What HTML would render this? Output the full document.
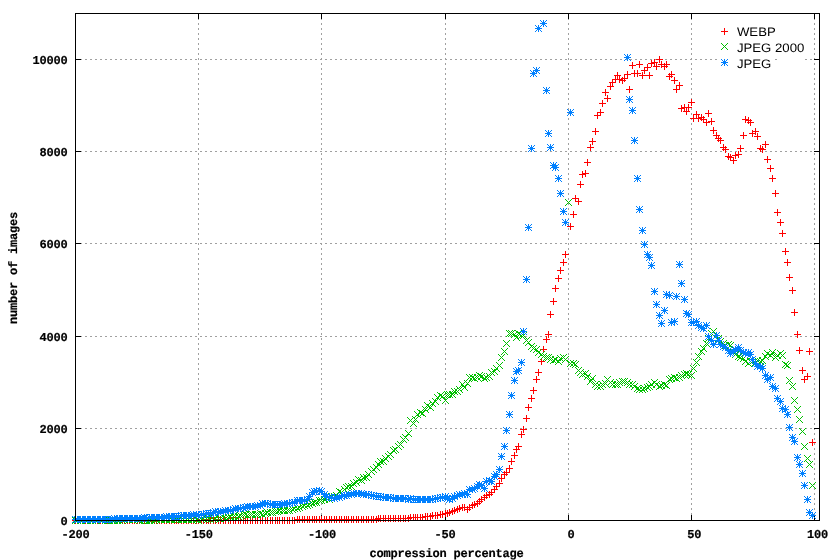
<!DOCTYPE html>
<html><head><meta charset="utf-8"><title>compression percentage</title>
<style>html,body{margin:0;padding:0;background:#fff}svg{display:block}</style></head>
<body>
<svg width="839" height="560" viewBox="0 0 839 560">
<rect width="839" height="560" fill="#fff"/>
<path d="M75.0 428.5H819.5M75.0 336.5H819.5M75.0 243.5H819.5M75.0 151.5H819.5M75.0 59.5H819.5M198.5 520.0V13.5M321.5 520.0V13.5M445.5 520.0V13.5M568.5 520.0V13.5M691.5 520.0V13.5M814.5 520.0V13.5" stroke="#a0a0a0" stroke-width="1" stroke-dasharray="2 3" fill="none" shape-rendering="crispEdges"/>
<path d="M75.5 520.5h5M819.5 520.5h-6M75.5 428.5h5M819.5 428.5h-6M75.5 336.5h5M819.5 336.5h-6M75.5 243.5h5M819.5 243.5h-6M75.5 151.5h5M819.5 151.5h-6M75.5 59.5h5M819.5 59.5h-6M75.5 520.5v-6M75.5 13.5v5M198.5 520.5v-6M198.5 13.5v5M321.5 520.5v-6M321.5 13.5v5M445.5 520.5v-6M445.5 13.5v5M568.5 520.5v-6M568.5 13.5v5M691.5 520.5v-6M691.5 13.5v5M814.5 520.5v-6M814.5 13.5v5" stroke="#000" stroke-width="1" fill="none" shape-rendering="crispEdges"/>
<path d="M717 59.5H775M777 59.5H805" stroke="#fff" stroke-width="1" shape-rendering="crispEdges"/>
<path d="M72 520.5h7M75.5 517v7M74 520.5h7M77.5 517v7M77 520.5h7M80.5 517v7M79 520.5h7M82.5 517v7M82 520.5h7M85.5 517v7M84 520.5h7M87.5 517v7M87 520.5h7M90.5 517v7M89 520.5h7M92.5 517v7M92 520.5h7M95.5 517v7M94 520.5h7M97.5 517v7M97 520.5h7M100.5 517v7M99 520.5h7M102.5 517v7M102 520.5h7M105.5 517v7M104 520.5h7M107.5 517v7M106 520.5h7M109.5 517v7M109 520.5h7M112.5 517v7M111 520.5h7M114.5 517v7M114 520.5h7M117.5 517v7M116 520.5h7M119.5 517v7M119 520.5h7M122.5 517v7M121 520.5h7M124.5 517v7M124 520.5h7M127.5 517v7M126 520.5h7M129.5 517v7M129 520.5h7M132.5 517v7M131 520.5h7M134.5 517v7M134 520.5h7M137.5 517v7M136 520.5h7M139.5 517v7M139 520.5h7M142.5 517v7M141 520.5h7M144.5 517v7M143 520.5h7M146.5 517v7M146 520.5h7M149.5 517v7M148 520.5h7M151.5 517v7M151 520.5h7M154.5 517v7M153 520.5h7M156.5 517v7M156 520.5h7M159.5 517v7M158 520.5h7M161.5 517v7M161 520.5h7M164.5 517v7M163 520.5h7M166.5 517v7M166 520.5h7M169.5 517v7M168 520.5h7M171.5 517v7M171 520.5h7M174.5 517v7M173 520.5h7M176.5 517v7M175 520.5h7M178.5 517v7M178 520.5h7M181.5 517v7M180 520.5h7M183.5 517v7M183 520.5h7M186.5 517v7M185 520.5h7M188.5 517v7M188 520.5h7M191.5 517v7M190 520.5h7M193.5 517v7M193 520.5h7M196.5 517v7M195 520.5h7M198.5 517v7M198 520.5h7M201.5 517v7M200 520.5h7M203.5 517v7M203 520.5h7M206.5 517v7M205 520.5h7M208.5 517v7M207 520.5h7M210.5 517v7M210 520.5h7M213.5 517v7M212 520.5h7M215.5 517v7M215 520.5h7M218.5 517v7M217 520.5h7M220.5 517v7M220 520.5h7M223.5 517v7M222 520.5h7M225.5 517v7M225 520.5h7M228.5 517v7M227 520.5h7M230.5 517v7M230 520.5h7M233.5 517v7M232 520.5h7M235.5 517v7M235 520.5h7M238.5 517v7M237 520.5h7M240.5 517v7M240 520.5h7M243.5 517v7M242 520.5h7M245.5 517v7M244 520.5h7M247.5 517v7M247 520.5h7M250.5 517v7M249 520.5h7M252.5 517v7M252 520.5h7M255.5 517v7M254 520.5h7M257.5 517v7M257 520.5h7M260.5 517v7M259 520.5h7M262.5 517v7M262 520.5h7M265.5 517v7M264 520.5h7M267.5 517v7M267 520.5h7M270.5 517v7M269 520.5h7M272.5 517v7M272 520.5h7M275.5 517v7M274 520.5h7M277.5 517v7M276 520.5h7M279.5 517v7M279 520.5h7M282.5 517v7M281 520.5h7M284.5 517v7M284 520.5h7M287.5 517v7M286 520.5h7M289.5 517v7M289 520.5h7M292.5 517v7M291 520.5h7M294.5 517v7M294 519.5h7M297.5 516v7M296 519.5h7M299.5 516v7M299 519.5h7M302.5 516v7M301 519.5h7M304.5 516v7M304 519.5h7M307.5 516v7M306 519.5h7M309.5 516v7M309 519.5h7M312.5 516v7M311 519.5h7M314.5 516v7M313 519.5h7M316.5 516v7M316 519.5h7M319.5 516v7M318 519.5h7M321.5 516v7M321 519.5h7M324.5 516v7M323 519.5h7M326.5 516v7M326 519.5h7M329.5 516v7M328 519.5h7M331.5 516v7M331 519.5h7M334.5 516v7M333 519.5h7M336.5 516v7M336 519.5h7M339.5 516v7M338 519.5h7M341.5 516v7M341 519.5h7M344.5 516v7M343 519.5h7M346.5 516v7M345 519.5h7M348.5 516v7M348 519.5h7M351.5 516v7M350 519.5h7M353.5 516v7M353 519.5h7M356.5 516v7M355 519.5h7M358.5 516v7M358 519.5h7M361.5 516v7M360 519.5h7M363.5 516v7M363 519.5h7M366.5 516v7M365 519.5h7M368.5 516v7M368 519.5h7M371.5 516v7M370 519.5h7M373.5 516v7M373 519.5h7M376.5 516v7M375 518.5h7M378.5 515v7M377 518.5h7M380.5 515v7M380 518.5h7M383.5 515v7M382 518.5h7M385.5 515v7M385 518.5h7M388.5 515v7M387 518.5h7M390.5 515v7M390 518.5h7M393.5 515v7M392 518.5h7M395.5 515v7M395 518.5h7M398.5 515v7M397 518.5h7M400.5 515v7M400 518.5h7M403.5 515v7M402 518.5h7M405.5 515v7M405 518.5h7M408.5 515v7M407 517.5h7M410.5 514v7M410 517.5h7M413.5 514v7M412 517.5h7M415.5 514v7M414 517.5h7M417.5 514v7M417 517.5h7M420.5 514v7M419 517.5h7M422.5 514v7M422 516.5h7M425.5 513v7M424 516.5h7M427.5 513v7M427 516.5h7M430.5 513v7M429 515.5h7M432.5 512v7M432 515.5h7M435.5 512v7M434 515.5h7M437.5 512v7M437 514.5h7M440.5 511v7M439 514.5h7M442.5 511v7M442 513.5h7M445.5 510v7M444 513.5h7M447.5 510v7M446 512.5h7M449.5 509v7M449 511.5h7M452.5 508v7M451 510.5h7M454.5 507v7M454 509.5h7M457.5 506v7M456 508.5h7M459.5 505v7M459 507.5h7M462.5 504v7M461 507.5h7M464.5 504v7M464 509.5h7M467.5 506v7M466 507.5h7M469.5 504v7M469 505.5h7M472.5 502v7M471 504.5h7M474.5 501v7M474 503.5h7M477.5 500v7M476 501.5h7M479.5 498v7M478 499.5h7M481.5 496v7M481 497.5h7M484.5 494v7M483 495.5h7M486.5 492v7M486 494.5h7M489.5 491v7M488 492.5h7M491.5 489v7M491 489.5h7M494.5 486v7M493 486.5h7M496.5 483v7M496 483.5h7M499.5 480v7M498 478.5h7M501.5 475v7M501 474.5h7M504.5 471v7M503 472.5h7M506.5 469v7M506 468.5h7M509.5 465v7M508 461.5h7M511.5 458v7M511 455.5h7M514.5 452v7M513 449.5h7M516.5 446v7M515 446.5h7M518.5 443v7M518 434.5h7M521.5 431v7M520 429.5h7M523.5 426v7M523 418.5h7M526.5 415v7M525 407.5h7M528.5 404v7M528 398.5h7M531.5 395v7M530 390.5h7M533.5 387v7M533 379.5h7M536.5 376v7M535 372.5h7M538.5 369v7M538 361.5h7M541.5 358v7M540 349.5h7M543.5 346v7M543 339.5h7M546.5 336v7M545 334.5h7M548.5 331v7M547 314.5h7M550.5 311v7M550 301.5h7M553.5 298v7M552 288.5h7M555.5 285v7M555 278.5h7M558.5 275v7M557 270.5h7M560.5 267v7M560 262.5h7M563.5 259v7M562 254.5h7M565.5 251v7M567 226.5h7M570.5 223v7M570 214.5h7M573.5 211v7M572 198.5h7M575.5 195v7M575 201.5h7M578.5 198v7M577 184.5h7M580.5 181v7M579 174.5h7M582.5 171v7M582 173.5h7M585.5 170v7M584 162.5h7M587.5 159v7M587 147.5h7M590.5 144v7M589 141.5h7M592.5 138v7M592 131.5h7M595.5 128v7M594 115.5h7M597.5 112v7M597 112.5h7M600.5 109v7M599 103.5h7M602.5 100v7M602 92.5h7M605.5 89v7M604 98.5h7M607.5 95v7M607 86.5h7M610.5 83v7M609 82.5h7M612.5 79v7M612 79.5h7M615.5 76v7M614 75.5h7M617.5 72v7M616 79.5h7M619.5 76v7M619 80.5h7M622.5 77v7M621 78.5h7M624.5 75v7M624 74.5h7M627.5 71v7M626 89.5h7M629.5 86v7M629 65.5h7M632.5 62v7M631 73.5h7M634.5 70v7M634 73.5h7M637.5 70v7M636 64.5h7M639.5 61v7M639 75.5h7M642.5 72v7M641 70.5h7M644.5 67v7M644 67.5h7M647.5 64v7M646 75.5h7M649.5 72v7M648 63.5h7M651.5 60v7M651 62.5h7M654.5 59v7M653 66.5h7M656.5 63v7M656 59.5h7M659.5 56v7M658 64.5h7M661.5 61v7M661 66.5h7M664.5 63v7M663 64.5h7M666.5 61v7M666 76.5h7M669.5 73v7M668 74.5h7M671.5 71v7M671 80.5h7M674.5 77v7M673 89.5h7M676.5 86v7M676 85.5h7M679.5 82v7M678 108.5h7M681.5 105v7M681 107.5h7M684.5 104v7M683 111.5h7M686.5 108v7M685 107.5h7M688.5 104v7M688 102.5h7M691.5 99v7M690 118.5h7M693.5 115v7M693 114.5h7M696.5 111v7M695 118.5h7M698.5 115v7M698 117.5h7M701.5 114v7M700 119.5h7M703.5 116v7M703 122.5h7M706.5 119v7M705 113.5h7M708.5 110v7M708 121.5h7M711.5 118v7M710 130.5h7M713.5 127v7M713 135.5h7M716.5 132v7M715 138.5h7M718.5 135v7M717 140.5h7M720.5 137v7M720 147.5h7M723.5 144v7M722 149.5h7M725.5 146v7M725 156.5h7M728.5 153v7M727 157.5h7M730.5 154v7M730 160.5h7M733.5 157v7M732 155.5h7M735.5 152v7M735 154.5h7M738.5 151v7M737 148.5h7M740.5 145v7M740 135.5h7M743.5 132v7M742 119.5h7M745.5 116v7M745 120.5h7M748.5 117v7M747 122.5h7M750.5 119v7M749 133.5h7M752.5 130v7M752 131.5h7M755.5 128v7M754 136.5h7M757.5 133v7M757 148.5h7M760.5 145v7M759 149.5h7M762.5 146v7M762 144.5h7M765.5 141v7M764 159.5h7M767.5 156v7M767 168.5h7M770.5 165v7M769 178.5h7M772.5 175v7M772 193.5h7M775.5 190v7M774 212.5h7M777.5 209v7M777 222.5h7M780.5 219v7M779 233.5h7M782.5 230v7M782 251.5h7M785.5 248v7M784 262.5h7M787.5 259v7M786 277.5h7M789.5 274v7M789 290.5h7M792.5 287v7M791 312.5h7M794.5 309v7M794 334.5h7M797.5 331v7M796 350.5h7M799.5 347v7M799 370.5h7M802.5 367v7M801 379.5h7M804.5 376v7M804 376.5h7M807.5 373v7M806 351.5h7M809.5 348v7M809 442.5h7M812.5 439v7" stroke="#ff0000" stroke-width="1" fill="none" shape-rendering="crispEdges"/>
<path d="M72 517l7 7M72 524l7-7M74 517l7 7M74 524l7-7M77 517l7 7M77 524l7-7M79 516l7 7M79 523l7-7M82 517l7 7M82 524l7-7M84 517l7 7M84 524l7-7M87 517l7 7M87 524l7-7M89 517l7 7M89 524l7-7M92 517l7 7M92 524l7-7M94 516l7 7M94 523l7-7M97 516l7 7M97 523l7-7M99 517l7 7M99 524l7-7M102 517l7 7M102 524l7-7M104 517l7 7M104 524l7-7M106 517l7 7M106 524l7-7M109 517l7 7M109 524l7-7M111 517l7 7M111 524l7-7M114 517l7 7M114 524l7-7M116 517l7 7M116 524l7-7M119 517l7 7M119 524l7-7M121 516l7 7M121 523l7-7M124 516l7 7M124 523l7-7M126 516l7 7M126 523l7-7M129 516l7 7M129 523l7-7M131 516l7 7M131 523l7-7M134 516l7 7M134 523l7-7M136 517l7 7M136 524l7-7M139 517l7 7M139 524l7-7M141 517l7 7M141 524l7-7M143 517l7 7M143 524l7-7M146 517l7 7M146 524l7-7M148 517l7 7M148 524l7-7M151 517l7 7M151 524l7-7M153 516l7 7M153 523l7-7M156 516l7 7M156 523l7-7M158 516l7 7M158 523l7-7M161 516l7 7M161 523l7-7M163 516l7 7M163 523l7-7M166 516l7 7M166 523l7-7M168 516l7 7M168 523l7-7M171 516l7 7M171 523l7-7M173 516l7 7M173 523l7-7M175 516l7 7M175 523l7-7M178 516l7 7M178 523l7-7M180 516l7 7M180 523l7-7M183 516l7 7M183 523l7-7M185 516l7 7M185 523l7-7M188 516l7 7M188 523l7-7M190 516l7 7M190 523l7-7M193 516l7 7M193 523l7-7M195 517l7 7M195 524l7-7M198 516l7 7M198 523l7-7M200 515l7 7M200 522l7-7M203 515l7 7M203 522l7-7M205 515l7 7M205 522l7-7M207 516l7 7M207 523l7-7M210 516l7 7M210 523l7-7M212 515l7 7M212 522l7-7M215 515l7 7M215 522l7-7M217 515l7 7M217 522l7-7M220 514l7 7M220 521l7-7M222 515l7 7M222 522l7-7M225 514l7 7M225 521l7-7M227 513l7 7M227 520l7-7M230 513l7 7M230 520l7-7M232 513l7 7M232 520l7-7M235 513l7 7M235 520l7-7M237 512l7 7M237 519l7-7M240 511l7 7M240 518l7-7M242 511l7 7M242 518l7-7M244 512l7 7M244 519l7-7M247 511l7 7M247 518l7-7M249 511l7 7M249 518l7-7M252 511l7 7M252 518l7-7M254 511l7 7M254 518l7-7M257 510l7 7M257 517l7-7M259 511l7 7M259 518l7-7M262 510l7 7M262 517l7-7M264 509l7 7M264 516l7-7M267 509l7 7M267 516l7-7M269 509l7 7M269 516l7-7M272 508l7 7M272 515l7-7M274 508l7 7M274 515l7-7M276 507l7 7M276 514l7-7M279 507l7 7M279 514l7-7M281 507l7 7M281 514l7-7M284 507l7 7M284 514l7-7M286 507l7 7M286 514l7-7M289 506l7 7M289 513l7-7M291 505l7 7M291 512l7-7M294 505l7 7M294 512l7-7M296 504l7 7M296 511l7-7M299 503l7 7M299 510l7-7M301 502l7 7M301 509l7-7M304 502l7 7M304 509l7-7M306 501l7 7M306 508l7-7M309 500l7 7M309 507l7-7M311 499l7 7M311 506l7-7M313 499l7 7M313 506l7-7M316 497l7 7M316 504l7-7M318 497l7 7M318 504l7-7M321 496l7 7M321 503l7-7M323 495l7 7M323 502l7-7M326 496l7 7M326 503l7-7M328 493l7 7M328 500l7-7M331 493l7 7M331 500l7-7M333 492l7 7M333 499l7-7M336 488l7 7M336 495l7-7M338 489l7 7M338 496l7-7M341 486l7 7M341 493l7-7M343 484l7 7M343 491l7-7M345 483l7 7M345 490l7-7M348 483l7 7M348 490l7-7M350 480l7 7M350 487l7-7M353 479l7 7M353 486l7-7M355 476l7 7M355 483l7-7M358 477l7 7M358 484l7-7M360 474l7 7M360 481l7-7M363 474l7 7M363 481l7-7M365 471l7 7M365 478l7-7M368 468l7 7M368 475l7-7M370 466l7 7M370 473l7-7M373 464l7 7M373 471l7-7M375 461l7 7M375 468l7-7M377 458l7 7M377 465l7-7M380 458l7 7M380 465l7-7M382 455l7 7M382 462l7-7M385 453l7 7M385 460l7-7M387 451l7 7M387 458l7-7M390 447l7 7M390 454l7-7M392 446l7 7M392 453l7-7M395 443l7 7M395 450l7-7M397 441l7 7M397 448l7-7M400 436l7 7M400 443l7-7M402 434l7 7M402 441l7-7M405 430l7 7M405 437l7-7M407 417l7 7M407 424l7-7M410 420l7 7M410 427l7-7M412 416l7 7M412 423l7-7M414 411l7 7M414 418l7-7M417 409l7 7M417 416l7-7M419 410l7 7M419 417l7-7M422 406l7 7M422 413l7-7M424 402l7 7M424 409l7-7M427 404l7 7M427 411l7-7M429 400l7 7M429 407l7-7M432 398l7 7M432 405l7-7M434 394l7 7M434 401l7-7M437 392l7 7M437 399l7-7M439 393l7 7M439 400l7-7M442 397l7 7M442 404l7-7M444 391l7 7M444 398l7-7M446 391l7 7M446 398l7-7M449 391l7 7M449 398l7-7M451 388l7 7M451 395l7-7M454 388l7 7M454 395l7-7M456 386l7 7M456 393l7-7M459 381l7 7M459 388l7-7M461 384l7 7M461 391l7-7M464 380l7 7M464 387l7-7M466 374l7 7M466 381l7-7M469 374l7 7M469 381l7-7M471 375l7 7M471 382l7-7M474 374l7 7M474 381l7-7M476 372l7 7M476 379l7-7M478 373l7 7M478 380l7-7M481 375l7 7M481 382l7-7M483 374l7 7M483 381l7-7M486 373l7 7M486 380l7-7M488 369l7 7M488 376l7-7M491 368l7 7M491 375l7-7M493 365l7 7M493 372l7-7M496 362l7 7M496 369l7-7M498 354l7 7M498 361l7-7M501 348l7 7M501 355l7-7M503 340l7 7M503 347l7-7M506 330l7 7M506 337l7-7M508 330l7 7M508 337l7-7M511 331l7 7M511 338l7-7M513 334l7 7M513 341l7-7M515 330l7 7M515 337l7-7M518 332l7 7M518 339l7-7M520 332l7 7M520 339l7-7M523 337l7 7M523 344l7-7M525 339l7 7M525 346l7-7M528 343l7 7M528 350l7-7M530 345l7 7M530 352l7-7M533 346l7 7M533 353l7-7M535 349l7 7M535 356l7-7M538 351l7 7M538 358l7-7M540 353l7 7M540 360l7-7M543 354l7 7M543 361l7-7M545 354l7 7M545 361l7-7M547 356l7 7M547 363l7-7M550 357l7 7M550 364l7-7M552 356l7 7M552 363l7-7M555 358l7 7M555 365l7-7M557 355l7 7M557 362l7-7M560 354l7 7M560 361l7-7M562 356l7 7M562 363l7-7M565 199l7 7M565 206l7-7M567 360l7 7M567 367l7-7M570 360l7 7M570 367l7-7M572 361l7 7M572 368l7-7M575 367l7 7M575 374l7-7M577 369l7 7M577 376l7-7M579 371l7 7M579 378l7-7M582 370l7 7M582 377l7-7M584 373l7 7M584 380l7-7M587 378l7 7M587 385l7-7M589 375l7 7M589 382l7-7M592 381l7 7M592 388l7-7M594 383l7 7M594 390l7-7M597 383l7 7M597 390l7-7M599 381l7 7M599 388l7-7M602 380l7 7M602 387l7-7M604 376l7 7M604 383l7-7M607 379l7 7M607 386l7-7M609 381l7 7M609 388l7-7M612 381l7 7M612 388l7-7M614 381l7 7M614 388l7-7M616 379l7 7M616 386l7-7M619 378l7 7M619 385l7-7M621 378l7 7M621 385l7-7M624 379l7 7M624 386l7-7M626 381l7 7M626 388l7-7M629 381l7 7M629 388l7-7M631 383l7 7M631 390l7-7M634 385l7 7M634 392l7-7M636 386l7 7M636 393l7-7M639 386l7 7M639 393l7-7M641 385l7 7M641 392l7-7M644 384l7 7M644 391l7-7M646 383l7 7M646 390l7-7M648 381l7 7M648 388l7-7M651 379l7 7M651 386l7-7M653 381l7 7M653 388l7-7M656 383l7 7M656 390l7-7M658 382l7 7M658 389l7-7M661 381l7 7M661 388l7-7M663 382l7 7M663 389l7-7M666 376l7 7M666 383l7-7M668 375l7 7M668 382l7-7M671 374l7 7M671 381l7-7M673 375l7 7M673 382l7-7M676 374l7 7M676 381l7-7M678 372l7 7M678 379l7-7M681 371l7 7M681 378l7-7M683 370l7 7M683 377l7-7M685 371l7 7M685 378l7-7M688 372l7 7M688 379l7-7M690 365l7 7M690 372l7-7M693 359l7 7M693 366l7-7M695 353l7 7M695 360l7-7M698 348l7 7M698 355l7-7M700 345l7 7M700 352l7-7M703 340l7 7M703 347l7-7M705 335l7 7M705 342l7-7M708 330l7 7M708 337l7-7M710 328l7 7M710 335l7-7M713 332l7 7M713 339l7-7M715 335l7 7M715 342l7-7M717 338l7 7M717 345l7-7M720 340l7 7M720 347l7-7M722 342l7 7M722 349l7-7M725 341l7 7M725 348l7-7M727 342l7 7M727 349l7-7M730 349l7 7M730 356l7-7M732 351l7 7M732 358l7-7M735 353l7 7M735 360l7-7M737 354l7 7M737 361l7-7M740 355l7 7M740 362l7-7M742 358l7 7M742 365l7-7M745 360l7 7M745 367l7-7M747 358l7 7M747 365l7-7M749 358l7 7M749 365l7-7M752 359l7 7M752 366l7-7M754 357l7 7M754 364l7-7M757 358l7 7M757 365l7-7M759 357l7 7M759 364l7-7M762 353l7 7M762 360l7-7M764 350l7 7M764 357l7-7M767 352l7 7M767 359l7-7M769 349l7 7M769 356l7-7M772 354l7 7M772 361l7-7M774 352l7 7M774 359l7-7M777 350l7 7M777 357l7-7M779 352l7 7M779 359l7-7M782 361l7 7M782 368l7-7M784 362l7 7M784 369l7-7M786 377l7 7M786 384l7-7M789 383l7 7M789 390l7-7M791 397l7 7M791 404l7-7M794 406l7 7M794 413l7-7M796 416l7 7M796 423l7-7M799 428l7 7M799 435l7-7M801 443l7 7M801 450l7-7M804 455l7 7M804 462l7-7M806 461l7 7M806 468l7-7M809 482l7 7M809 489l7-7" stroke="#00c000" stroke-width="1" fill="none" shape-rendering="crispEdges"/>
<path d="M72 519.5h7M75.5 516v7M72 516l7 7M72 523l7-7M74 519.5h7M77.5 516v7M74 516l7 7M74 523l7-7M77 519.5h7M80.5 516v7M77 516l7 7M77 523l7-7M79 519.5h7M82.5 516v7M79 516l7 7M79 523l7-7M82 519.5h7M85.5 516v7M82 516l7 7M82 523l7-7M84 519.5h7M87.5 516v7M84 516l7 7M84 523l7-7M87 519.5h7M90.5 516v7M87 516l7 7M87 523l7-7M89 519.5h7M92.5 516v7M89 516l7 7M89 523l7-7M92 519.5h7M95.5 516v7M92 516l7 7M92 523l7-7M94 519.5h7M97.5 516v7M94 516l7 7M94 523l7-7M97 519.5h7M100.5 516v7M97 516l7 7M97 523l7-7M99 519.5h7M102.5 516v7M99 516l7 7M99 523l7-7M102 519.5h7M105.5 516v7M102 516l7 7M102 523l7-7M104 519.5h7M107.5 516v7M104 516l7 7M104 523l7-7M106 519.5h7M109.5 516v7M106 516l7 7M106 523l7-7M109 519.5h7M112.5 516v7M109 516l7 7M109 523l7-7M111 518.5h7M114.5 515v7M111 515l7 7M111 522l7-7M114 518.5h7M117.5 515v7M114 515l7 7M114 522l7-7M116 518.5h7M119.5 515v7M116 515l7 7M116 522l7-7M119 518.5h7M122.5 515v7M119 515l7 7M119 522l7-7M121 518.5h7M124.5 515v7M121 515l7 7M121 522l7-7M124 518.5h7M127.5 515v7M124 515l7 7M124 522l7-7M126 518.5h7M129.5 515v7M126 515l7 7M126 522l7-7M129 518.5h7M132.5 515v7M129 515l7 7M129 522l7-7M131 518.5h7M134.5 515v7M131 515l7 7M131 522l7-7M134 518.5h7M137.5 515v7M134 515l7 7M134 522l7-7M136 518.5h7M139.5 515v7M136 515l7 7M136 522l7-7M139 518.5h7M142.5 515v7M139 515l7 7M139 522l7-7M141 517.5h7M144.5 514v7M141 514l7 7M141 521l7-7M143 518.5h7M146.5 515v7M143 515l7 7M143 522l7-7M146 517.5h7M149.5 514v7M146 514l7 7M146 521l7-7M148 517.5h7M151.5 514v7M148 514l7 7M148 521l7-7M151 517.5h7M154.5 514v7M151 514l7 7M151 521l7-7M153 517.5h7M156.5 514v7M153 514l7 7M153 521l7-7M156 517.5h7M159.5 514v7M156 514l7 7M156 521l7-7M158 517.5h7M161.5 514v7M158 514l7 7M158 521l7-7M161 517.5h7M164.5 514v7M161 514l7 7M161 521l7-7M163 516.5h7M166.5 513v7M163 513l7 7M163 520l7-7M166 516.5h7M169.5 513v7M166 513l7 7M166 520l7-7M168 516.5h7M171.5 513v7M168 513l7 7M168 520l7-7M171 516.5h7M174.5 513v7M171 513l7 7M171 520l7-7M173 516.5h7M176.5 513v7M173 513l7 7M173 520l7-7M175 516.5h7M178.5 513v7M175 513l7 7M175 520l7-7M178 515.5h7M181.5 512v7M178 512l7 7M178 519l7-7M180 515.5h7M183.5 512v7M180 512l7 7M180 519l7-7M183 515.5h7M186.5 512v7M183 512l7 7M183 519l7-7M185 515.5h7M188.5 512v7M185 512l7 7M185 519l7-7M188 515.5h7M191.5 512v7M188 512l7 7M188 519l7-7M190 514.5h7M193.5 511v7M190 511l7 7M190 518l7-7M193 514.5h7M196.5 511v7M193 511l7 7M193 518l7-7M195 515.5h7M198.5 512v7M195 512l7 7M195 519l7-7M198 514.5h7M201.5 511v7M198 511l7 7M198 518l7-7M200 514.5h7M203.5 511v7M200 511l7 7M200 518l7-7M203 513.5h7M206.5 510v7M203 510l7 7M203 517l7-7M205 513.5h7M208.5 510v7M205 510l7 7M205 517l7-7M207 513.5h7M210.5 510v7M207 510l7 7M207 517l7-7M210 512.5h7M213.5 509v7M210 509l7 7M210 516l7-7M212 511.5h7M215.5 508v7M212 508l7 7M212 515l7-7M215 512.5h7M218.5 509v7M215 509l7 7M215 516l7-7M217 511.5h7M220.5 508v7M217 508l7 7M217 515l7-7M220 511.5h7M223.5 508v7M220 508l7 7M220 515l7-7M222 510.5h7M225.5 507v7M222 507l7 7M222 514l7-7M225 510.5h7M228.5 507v7M225 507l7 7M225 514l7-7M227 510.5h7M230.5 507v7M227 507l7 7M227 514l7-7M230 509.5h7M233.5 506v7M230 506l7 7M230 513l7-7M232 508.5h7M235.5 505v7M232 505l7 7M232 512l7-7M235 508.5h7M238.5 505v7M235 505l7 7M235 512l7-7M237 508.5h7M240.5 505v7M237 505l7 7M237 512l7-7M240 507.5h7M243.5 504v7M240 504l7 7M240 511l7-7M242 507.5h7M245.5 504v7M242 504l7 7M242 511l7-7M244 506.5h7M247.5 503v7M244 503l7 7M244 510l7-7M247 506.5h7M250.5 503v7M247 503l7 7M247 510l7-7M249 506.5h7M252.5 503v7M249 503l7 7M249 510l7-7M252 506.5h7M255.5 503v7M252 503l7 7M252 510l7-7M254 505.5h7M257.5 502v7M254 502l7 7M254 509l7-7M257 505.5h7M260.5 502v7M257 502l7 7M257 509l7-7M259 503.5h7M262.5 500v7M259 500l7 7M259 507l7-7M262 503.5h7M265.5 500v7M262 500l7 7M262 507l7-7M264 503.5h7M267.5 500v7M264 500l7 7M264 507l7-7M267 504.5h7M270.5 501v7M267 501l7 7M267 508l7-7M269 504.5h7M272.5 501v7M269 501l7 7M269 508l7-7M272 504.5h7M275.5 501v7M272 501l7 7M272 508l7-7M274 504.5h7M277.5 501v7M274 501l7 7M274 508l7-7M276 504.5h7M279.5 501v7M276 501l7 7M276 508l7-7M279 504.5h7M282.5 501v7M279 501l7 7M279 508l7-7M281 503.5h7M284.5 500v7M281 500l7 7M281 507l7-7M284 503.5h7M287.5 500v7M284 500l7 7M284 507l7-7M286 503.5h7M289.5 500v7M286 500l7 7M286 507l7-7M289 502.5h7M292.5 499v7M289 499l7 7M289 506l7-7M291 502.5h7M294.5 499v7M291 499l7 7M291 506l7-7M294 500.5h7M297.5 497v7M294 497l7 7M294 504l7-7M296 500.5h7M299.5 497v7M296 497l7 7M296 504l7-7M299 500.5h7M302.5 497v7M299 497l7 7M299 504l7-7M301 500.5h7M304.5 497v7M301 497l7 7M301 504l7-7M304 499.5h7M307.5 496v7M304 496l7 7M304 503l7-7M306 496.5h7M309.5 493v7M306 493l7 7M306 500l7-7M309 492.5h7M312.5 489v7M309 489l7 7M309 496l7-7M311 491.5h7M314.5 488v7M311 488l7 7M311 495l7-7M313 491.5h7M316.5 488v7M313 488l7 7M313 495l7-7M316 490.5h7M319.5 487v7M316 487l7 7M316 494l7-7M318 491.5h7M321.5 488v7M318 488l7 7M318 495l7-7M321 494.5h7M324.5 491v7M321 491l7 7M321 498l7-7M323 496.5h7M326.5 493v7M323 493l7 7M323 500l7-7M326 497.5h7M329.5 494v7M326 494l7 7M326 501l7-7M328 497.5h7M331.5 494v7M328 494l7 7M328 501l7-7M331 498.5h7M334.5 495v7M331 495l7 7M331 502l7-7M333 497.5h7M336.5 494v7M333 494l7 7M333 501l7-7M336 497.5h7M339.5 494v7M336 494l7 7M336 501l7-7M338 496.5h7M341.5 493v7M338 493l7 7M338 500l7-7M341 495.5h7M344.5 492v7M341 492l7 7M341 499l7-7M343 495.5h7M346.5 492v7M343 492l7 7M343 499l7-7M345 494.5h7M348.5 491v7M345 491l7 7M345 498l7-7M348 494.5h7M351.5 491v7M348 491l7 7M348 498l7-7M350 493.5h7M353.5 490v7M350 490l7 7M350 497l7-7M353 493.5h7M356.5 490v7M353 490l7 7M353 497l7-7M355 493.5h7M358.5 490v7M355 490l7 7M355 497l7-7M358 493.5h7M361.5 490v7M358 490l7 7M358 497l7-7M360 494.5h7M363.5 491v7M360 491l7 7M360 498l7-7M363 494.5h7M366.5 491v7M363 491l7 7M363 498l7-7M365 494.5h7M368.5 491v7M365 491l7 7M365 498l7-7M368 495.5h7M371.5 492v7M368 492l7 7M368 499l7-7M370 495.5h7M373.5 492v7M370 492l7 7M370 499l7-7M373 496.5h7M376.5 493v7M373 493l7 7M373 500l7-7M375 496.5h7M378.5 493v7M375 493l7 7M375 500l7-7M377 496.5h7M380.5 493v7M377 493l7 7M377 500l7-7M380 497.5h7M383.5 494v7M380 494l7 7M380 501l7-7M382 497.5h7M385.5 494v7M382 494l7 7M382 501l7-7M385 497.5h7M388.5 494v7M385 494l7 7M385 501l7-7M387 497.5h7M390.5 494v7M387 494l7 7M387 501l7-7M390 498.5h7M393.5 495v7M390 495l7 7M390 502l7-7M392 498.5h7M395.5 495v7M392 495l7 7M392 502l7-7M395 498.5h7M398.5 495v7M395 495l7 7M395 502l7-7M397 498.5h7M400.5 495v7M397 495l7 7M397 502l7-7M400 498.5h7M403.5 495v7M400 495l7 7M400 502l7-7M402 498.5h7M405.5 495v7M402 495l7 7M402 502l7-7M405 499.5h7M408.5 496v7M405 496l7 7M405 503l7-7M407 498.5h7M410.5 495v7M407 495l7 7M407 502l7-7M410 499.5h7M413.5 496v7M410 496l7 7M410 503l7-7M412 499.5h7M415.5 496v7M412 496l7 7M412 503l7-7M414 499.5h7M417.5 496v7M414 496l7 7M414 503l7-7M417 499.5h7M420.5 496v7M417 496l7 7M417 503l7-7M419 499.5h7M422.5 496v7M419 496l7 7M419 503l7-7M422 499.5h7M425.5 496v7M422 496l7 7M422 503l7-7M424 499.5h7M427.5 496v7M424 496l7 7M424 503l7-7M427 499.5h7M430.5 496v7M427 496l7 7M427 503l7-7M429 499.5h7M432.5 496v7M429 496l7 7M429 503l7-7M432 498.5h7M435.5 495v7M432 495l7 7M432 502l7-7M434 498.5h7M437.5 495v7M434 495l7 7M434 502l7-7M437 497.5h7M440.5 494v7M437 494l7 7M437 501l7-7M439 497.5h7M442.5 494v7M439 494l7 7M439 501l7-7M442 496.5h7M445.5 493v7M442 493l7 7M442 500l7-7M444 498.5h7M447.5 495v7M444 495l7 7M444 502l7-7M446 499.5h7M449.5 496v7M446 496l7 7M446 503l7-7M449 498.5h7M452.5 495v7M449 495l7 7M449 502l7-7M451 496.5h7M454.5 493v7M451 493l7 7M451 500l7-7M454 495.5h7M457.5 492v7M454 492l7 7M454 499l7-7M456 494.5h7M459.5 491v7M456 491l7 7M456 498l7-7M459 494.5h7M462.5 491v7M459 491l7 7M459 498l7-7M461 493.5h7M464.5 490v7M461 490l7 7M461 497l7-7M464 494.5h7M467.5 491v7M464 491l7 7M464 498l7-7M466 489.5h7M469.5 486v7M466 486l7 7M466 493l7-7M469 489.5h7M472.5 486v7M469 486l7 7M469 493l7-7M471 488.5h7M474.5 485v7M471 485l7 7M471 492l7-7M474 486.5h7M477.5 483v7M474 483l7 7M474 490l7-7M476 484.5h7M479.5 481v7M476 481l7 7M476 488l7-7M478 485.5h7M481.5 482v7M478 482l7 7M478 489l7-7M481 488.5h7M484.5 485v7M481 485l7 7M481 492l7-7M483 481.5h7M486.5 478v7M483 478l7 7M483 485l7-7M486 480.5h7M489.5 477v7M486 477l7 7M486 484l7-7M488 481.5h7M491.5 478v7M488 478l7 7M488 485l7-7M491 476.5h7M494.5 473v7M491 473l7 7M491 480l7-7M493 474.5h7M496.5 471v7M493 471l7 7M493 478l7-7M496 469.5h7M499.5 466v7M496 466l7 7M496 473l7-7M498 456.5h7M501.5 453v7M498 453l7 7M498 460l7-7M501 446.5h7M504.5 443v7M501 443l7 7M501 450l7-7M503 430.5h7M506.5 427v7M503 427l7 7M503 434l7-7M506 414.5h7M509.5 411v7M506 411l7 7M506 418l7-7M508 395.5h7M511.5 392v7M508 392l7 7M508 399l7-7M511 380.5h7M514.5 377v7M511 377l7 7M511 384l7-7M513 371.5h7M516.5 368v7M513 368l7 7M513 375l7-7M515 370.5h7M518.5 367v7M515 367l7 7M515 374l7-7M518 362.5h7M521.5 359v7M518 359l7 7M518 366l7-7M520 331.5h7M523.5 328v7M520 328l7 7M520 335l7-7M523 279.5h7M526.5 276v7M523 276l7 7M523 283l7-7M525 227.5h7M528.5 224v7M525 224l7 7M525 231l7-7M528 148.5h7M531.5 145v7M528 145l7 7M528 152l7-7M530 73.5h7M533.5 70v7M530 70l7 7M530 77l7-7M533 70.5h7M536.5 67v7M533 67l7 7M533 74l7-7M535 28.5h7M538.5 25v7M535 25l7 7M535 32l7-7M540 23.5h7M543.5 20v7M540 20l7 7M540 27l7-7M543 90.5h7M546.5 87v7M543 87l7 7M543 94l7-7M545 133.5h7M548.5 130v7M545 130l7 7M545 137l7-7M547 147.5h7M550.5 144v7M547 144l7 7M547 151l7-7M550 165.5h7M553.5 162v7M550 162l7 7M550 169l7-7M552 167.5h7M555.5 164v7M552 164l7 7M552 171l7-7M555 178.5h7M558.5 175v7M555 175l7 7M555 182l7-7M557 193.5h7M560.5 190v7M557 190l7 7M557 197l7-7M560 211.5h7M563.5 208v7M560 208l7 7M560 215l7-7M562 222.5h7M565.5 219v7M562 219l7 7M562 226l7-7M567 112.5h7M570.5 109v7M567 109l7 7M567 116l7-7M624 57.5h7M627.5 54v7M624 54l7 7M624 61l7-7M626 99.5h7M629.5 96v7M626 96l7 7M626 103l7-7M629 110.5h7M632.5 107v7M629 107l7 7M629 114l7-7M631 140.5h7M634.5 137v7M631 137l7 7M631 144l7-7M634 178.5h7M637.5 175v7M634 175l7 7M634 182l7-7M636 209.5h7M639.5 206v7M636 206l7 7M636 213l7-7M639 230.5h7M642.5 227v7M639 227l7 7M639 234l7-7M641 244.5h7M644.5 241v7M641 241l7 7M641 248l7-7M644 254.5h7M647.5 251v7M644 251l7 7M644 258l7-7M646 257.5h7M649.5 254v7M646 254l7 7M646 261l7-7M648 265.5h7M651.5 262v7M648 262l7 7M648 269l7-7M651 291.5h7M654.5 288v7M651 288l7 7M651 295l7-7M653 304.5h7M656.5 301v7M653 301l7 7M653 308l7-7M656 315.5h7M659.5 312v7M656 312l7 7M656 319l7-7M658 323.5h7M661.5 320v7M658 320l7 7M658 327l7-7M661 310.5h7M664.5 307v7M661 307l7 7M661 314l7-7M663 294.5h7M666.5 291v7M663 291l7 7M663 298l7-7M666 295.5h7M669.5 292v7M666 292l7 7M666 299l7-7M668 322.5h7M671.5 319v7M668 319l7 7M668 326l7-7M671 321.5h7M674.5 318v7M671 318l7 7M671 325l7-7M673 296.5h7M676.5 293v7M673 293l7 7M673 300l7-7M676 264.5h7M679.5 261v7M676 261l7 7M676 268l7-7M678 283.5h7M681.5 280v7M678 280l7 7M678 287l7-7M681 299.5h7M684.5 296v7M681 296l7 7M681 303l7-7M683 313.5h7M686.5 310v7M683 310l7 7M683 317l7-7M685 314.5h7M688.5 311v7M685 311l7 7M685 318l7-7M688 322.5h7M691.5 319v7M688 319l7 7M688 326l7-7M690 322.5h7M693.5 319v7M690 319l7 7M690 326l7-7M693 321.5h7M696.5 318v7M693 318l7 7M693 325l7-7M695 325.5h7M698.5 322v7M695 322l7 7M695 329l7-7M698 327.5h7M701.5 324v7M698 324l7 7M698 331l7-7M700 328.5h7M703.5 325v7M700 325l7 7M700 332l7-7M703 325.5h7M706.5 322v7M703 322l7 7M703 329l7-7M705 336.5h7M708.5 333v7M705 333l7 7M705 340l7-7M708 340.5h7M711.5 337v7M708 337l7 7M708 344l7-7M710 344.5h7M713.5 341v7M710 341l7 7M710 348l7-7M713 335.5h7M716.5 332v7M713 332l7 7M713 339l7-7M715 340.5h7M718.5 337v7M715 337l7 7M715 344l7-7M717 344.5h7M720.5 341v7M717 341l7 7M717 348l7-7M720 346.5h7M723.5 343v7M720 343l7 7M720 350l7-7M722 347.5h7M725.5 344v7M722 344l7 7M722 351l7-7M725 350.5h7M728.5 347v7M725 347l7 7M725 354l7-7M727 353.5h7M730.5 350v7M727 350l7 7M727 357l7-7M730 351.5h7M733.5 348v7M730 348l7 7M730 355l7-7M732 349.5h7M735.5 346v7M732 346l7 7M732 353l7-7M735 347.5h7M738.5 344v7M735 344l7 7M735 351l7-7M737 350.5h7M740.5 347v7M737 347l7 7M737 354l7-7M740 352.5h7M743.5 349v7M740 349l7 7M740 356l7-7M742 353.5h7M745.5 350v7M742 350l7 7M742 357l7-7M745 352.5h7M748.5 349v7M745 349l7 7M745 356l7-7M747 354.5h7M750.5 351v7M747 351l7 7M747 358l7-7M749 359.5h7M752.5 356v7M749 356l7 7M749 363l7-7M752 363.5h7M755.5 360v7M752 360l7 7M752 367l7-7M754 366.5h7M757.5 363v7M754 363l7 7M754 370l7-7M757 366.5h7M760.5 363v7M757 363l7 7M757 370l7-7M759 368.5h7M762.5 365v7M759 365l7 7M759 372l7-7M762 375.5h7M765.5 372v7M762 372l7 7M762 379l7-7M764 379.5h7M767.5 376v7M764 376l7 7M764 383l7-7M767 377.5h7M770.5 374v7M767 374l7 7M767 381l7-7M769 386.5h7M772.5 383v7M769 383l7 7M769 390l7-7M772 388.5h7M775.5 385v7M772 385l7 7M772 392l7-7M774 398.5h7M777.5 395v7M774 395l7 7M774 402l7-7M777 401.5h7M780.5 398v7M777 398l7 7M777 405l7-7M779 408.5h7M782.5 405v7M779 405l7 7M779 412l7-7M782 409.5h7M785.5 406v7M782 406l7 7M782 413l7-7M784 414.5h7M787.5 411v7M784 411l7 7M784 418l7-7M786 427.5h7M789.5 424v7M786 424l7 7M786 431l7-7M789 437.5h7M792.5 434v7M789 434l7 7M789 441l7-7M791 441.5h7M794.5 438v7M791 438l7 7M791 445l7-7M794 457.5h7M797.5 454v7M794 454l7 7M794 461l7-7M796 464.5h7M799.5 461v7M796 461l7 7M796 468l7-7M799 473.5h7M802.5 470v7M799 470l7 7M799 477l7-7M801 485.5h7M804.5 482v7M801 482l7 7M801 489l7-7M804 499.5h7M807.5 496v7M804 496l7 7M804 503l7-7M806 512.5h7M809.5 509v7M806 509l7 7M806 516l7-7M809 515.5h7M812.5 512v7M809 512l7 7M809 519l7-7" stroke="#0080ff" stroke-width="1" fill="none" shape-rendering="crispEdges"/>
<path d="M721 31.5h7M724.5 28v7" stroke="#ff0000" stroke-width="1" fill="none" shape-rendering="crispEdges"/>
<path d="M721 43l7 7M721 50l7-7" stroke="#00c000" stroke-width="1" fill="none" shape-rendering="crispEdges"/>
<path d="M721 62.5h7M724.5 59v7M721 59l7 7M721 66l7-7" stroke="#0080ff" stroke-width="1" fill="none" shape-rendering="crispEdges"/>
<g font-family="'Liberation Sans', Arial, sans-serif" font-size="12.3px" fill="#000" text-rendering="geometricPrecision">
<text transform="translate(736.9,35.6) scale(1.072,1)">WEBP</text>
<text transform="translate(736.9,52) scale(1.072,1)">JPEG 2000</text>
<text transform="translate(736.9,68) scale(1.072,1)">JPEG</text>
</g>
<rect x="75.5" y="13.5" width="744.0" height="507.0" fill="none" stroke="#000" stroke-width="1" shape-rendering="crispEdges"/>
<g font-family="'Liberation Mono', monospace" font-weight="bold" font-size="12px" letter-spacing="-0.2" text-rendering="geometricPrecision" fill="#000" stroke="#000" stroke-width="0.2">
<text x="67.6" y="525.0" text-anchor="end">0</text>
<text x="67.6" y="433.0" text-anchor="end">2000</text>
<text x="67.6" y="341.0" text-anchor="end">4000</text>
<text x="67.6" y="248.0" text-anchor="end">6000</text>
<text x="67.6" y="156.0" text-anchor="end">8000</text>
<text x="67.6" y="64.0" text-anchor="end">10000</text>
<text x="75.5" y="538" text-anchor="middle">-200</text>
<text x="198.7" y="538" text-anchor="middle">-150</text>
<text x="321.9" y="538" text-anchor="middle">-100</text>
<text x="445.0" y="538" text-anchor="middle">-50</text>
<text x="571.0" y="538" text-anchor="middle">0</text>
<text x="694.2" y="538" text-anchor="middle">50</text>
<text x="817.4" y="538" text-anchor="middle">100</text>
<text x="446.5" y="557" text-anchor="middle">compression percentage</text>
<text transform="translate(17.3,268) rotate(-90)" text-anchor="middle">number of images</text>
</g></svg>
</body></html>
